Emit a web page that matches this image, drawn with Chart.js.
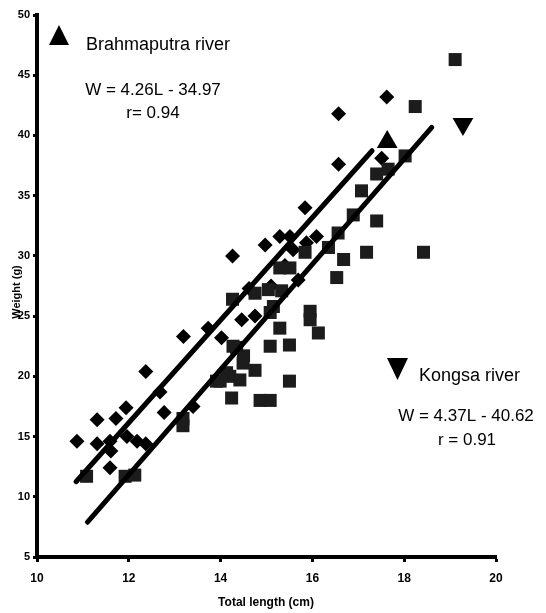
<!DOCTYPE html>
<html>
<head>
<meta charset="utf-8">
<script src="https://cdn.jsdelivr.net/npm/chart.js@4/dist/chart.umd.min.js"></script>
<style>
  html, body { margin: 0; padding: 0; background: #fff; }
  #wrap { width: 546px; height: 613px; position: relative; }
</style>
</head>
<body>
<div id="wrap"><canvas id="c" width="546" height="613"></canvas></div>
<script>
// Length–weight samples, Brahmaputra river (diamonds)
const brahmaputraLength = [10.87, 11.31, 11.31, 11.59, 11.61, 11.59, 11.72, 11.94, 11.96, 12.18, 12.37, 12.37,
  12.68, 12.77, 13.19, 13.40, 13.73, 14.02, 14.26, 14.46, 14.75, 14.62, 14.97, 15.10, 15.29, 15.40,
  15.51, 15.58, 15.69, 15.84, 15.87, 16.09, 16.57, 16.57, 17.51, 17.62];
const brahmaputraWeight = [14.6, 16.4, 14.4, 14.6, 13.8, 12.4, 16.5, 17.4, 15.0, 14.6, 14.4, 20.4,
  18.7, 17.0, 23.3, 17.5, 24.0, 23.2, 30.0, 24.7, 25.0, 27.3, 30.9, 27.5, 31.6, 29.2,
  31.6, 30.5, 28.0, 34.0, 31.1, 31.6, 41.8, 37.6, 38.1, 43.2];

// Length–weight samples, Kongsa river (squares)
const kongsaLength = [11.08, 11.92, 12.13, 13.18, 13.18, 13.91, 13.99, 14.13, 14.20, 14.42, 14.24, 14.86,
  15.08, 15.50, 14.27, 14.35, 14.50, 14.49, 14.75, 15.08, 15.50, 15.29, 14.26, 14.75, 15.15, 15.08,
  15.04, 15.33, 15.29, 15.51, 15.95, 15.95, 16.13, 15.84, 16.35, 16.56, 16.68, 16.53, 16.89, 17.40,
  17.18, 18.42, 17.07, 17.40, 17.65, 18.02, 18.24, 19.11];
const kongsaWeight = [11.7, 11.7, 11.8, 16.5, 15.9, 19.6, 19.6, 20.3, 20.0, 19.7, 18.2, 18.0,
  18.0, 19.6, 22.5, 22.4, 21.7, 21.1, 20.5, 22.5, 22.6, 24.0, 26.4, 26.9, 25.8, 25.3,
  27.2, 27.1, 29.0, 29.0, 25.4, 24.7, 23.6, 30.3, 30.7, 31.9, 29.7, 28.2, 33.4, 32.9,
  30.3, 30.3, 35.4, 36.8, 37.2, 38.3, 42.4, 46.3];

// Fitted regressions W = a*L + b and the length span each is drawn over
const brahmaputraFit = { slope: 4.26, intercept: -34.97, from: 10.85, to: 17.3 };
const kongsaFit = { slope: 4.37, intercept: -40.62, from: 11.1, to: 18.6 };

// Triangle markers at the upper end of each fitted line
const brahmaputraMarker = [17.63, 39.45];
const kongsaMarker = [19.28, 40.95];

// Axis ticks
const xTicks = [10, 12, 14, 16, 18, 20];
const yTicks = [5, 10, 15, 20, 25, 30, 35, 40, 45, 50];

const toPoints = (xs, ys) => xs.map((x, i) => ({ x, y: ys[i] }));
const fitLine = f => [f.from, f.to].map(x => ({ x, y: f.slope * x + f.intercept }));

const FONT = '"Liberation Sans", Arial, Helvetica, sans-serif';

// Free text and key glyphs drawn on top of the chart
const notes = {
  id: 'notes',
  afterDraw(chart) {
    const ctx = chart.ctx;
    ctx.save();
    ctx.fillStyle = '#000';
    ctx.textBaseline = 'alphabetic';

    // key triangles
    ctx.beginPath();
    ctx.moveTo(59, 25); ctx.lineTo(69, 45); ctx.lineTo(49, 45); ctx.closePath();
    ctx.fill();
    ctx.beginPath();
    ctx.moveTo(387, 358); ctx.lineTo(408, 358); ctx.lineTo(397.5, 380); ctx.closePath();
    ctx.fill();

    ctx.font = '18px ' + FONT;
    ctx.textAlign = 'left';
    ctx.fillText('Brahmaputra river', 86, 50);
    ctx.fillText('Kongsa river', 419, 381);

    ctx.font = '17px ' + FONT;
    ctx.textAlign = 'center';
    ctx.fillText('W = 4.26L - 34.97', 153, 95);
    ctx.fillText('r= 0.94', 153, 118);
    ctx.fillText('W = 4.37L - 40.62', 466, 421);
    ctx.fillText('r = 0.91', 467, 445);

    // axis titles
    ctx.font = 'bold 12px ' + FONT;
    ctx.fillText('Total length (cm)', 266, 606);
    ctx.font = 'bold 11px ' + FONT;
    ctx.translate(20, 292);
    ctx.rotate(-Math.PI / 2);
    ctx.fillText('Weight (g)', 0, 0);
    ctx.restore();
  }
};

new Chart(document.getElementById('c'), {
  type: 'scatter',
  data: {
    datasets: [
      {
        label: 'Brahmaputra fit',
        type: 'line',
        data: fitLine(brahmaputraFit),
        borderColor: '#000', borderWidth: 5, pointRadius: 0, borderCapStyle: 'round', fill: false
      },
      {
        label: 'Kongsa fit',
        type: 'line',
        data: fitLine(kongsaFit),
        borderColor: '#000', borderWidth: 5, pointRadius: 0, borderCapStyle: 'round', fill: false
      },
      {
        label: 'Kongsa river',
        data: toPoints(kongsaLength, kongsaWeight),
        pointStyle: 'rect', pointRadius: 9.2,
        backgroundColor: '#1c1c1c', borderColor: '#1c1c1c', borderWidth: 0
      },
      {
        label: 'Brahmaputra river',
        data: toPoints(brahmaputraLength, brahmaputraWeight),
        pointStyle: 'rectRot', pointRadius: 7.5,
        backgroundColor: '#000', borderColor: '#000', borderWidth: 0
      },
      {
        label: 'Brahmaputra end',
        data: [{ x: brahmaputraMarker[0], y: brahmaputraMarker[1] }],
        pointStyle: 'triangle', pointRadius: 12,
        backgroundColor: '#000', borderColor: '#000', borderWidth: 0
      },
      {
        label: 'Kongsa end',
        data: [{ x: kongsaMarker[0], y: kongsaMarker[1] }],
        pointStyle: 'triangle', pointRotation: 180, pointRadius: 12,
        backgroundColor: '#000', borderColor: '#000', borderWidth: 0
      }
    ]
  },
  options: {
    responsive: false,
    animation: false,
    events: [],
    layout: { padding: { top: 15, right: 50, left: 0, bottom: 0 } },
    plugins: { legend: { display: false }, tooltip: { enabled: false } },
    scales: {
      x: {
        type: 'linear', min: 10, max: 20,
        afterFit(s) { s.height = 56; },
        afterBuildTicks(s) { s.ticks = xTicks.map(v => ({ value: v })); },
        border: { display: true, color: '#000', width: 4 },
        grid: { display: true, drawOnChartArea: false, drawTicks: true, tickLength: 5, tickWidth: 3, tickColor: '#000' },
        ticks: { color: '#000', padding: 9, maxRotation: 0, font: { family: FONT, size: 12, weight: 'bold' } }
      },
      y: {
        type: 'linear', min: 5, max: 50,
        afterFit(s) { s.width = 37; },
        afterBuildTicks(s) { s.ticks = yTicks.map(v => ({ value: v })); },
        border: { display: true, color: '#000', width: 4 },
        grid: { display: true, drawOnChartArea: false, drawTicks: true, tickLength: 4, tickWidth: 3, tickColor: '#000' },
        ticks: { color: '#000', padding: 3, font: { family: FONT, size: 11, weight: 'bold' } }
      }
    }
  },
  plugins: [notes]
});
</script>
</body>
</html>
